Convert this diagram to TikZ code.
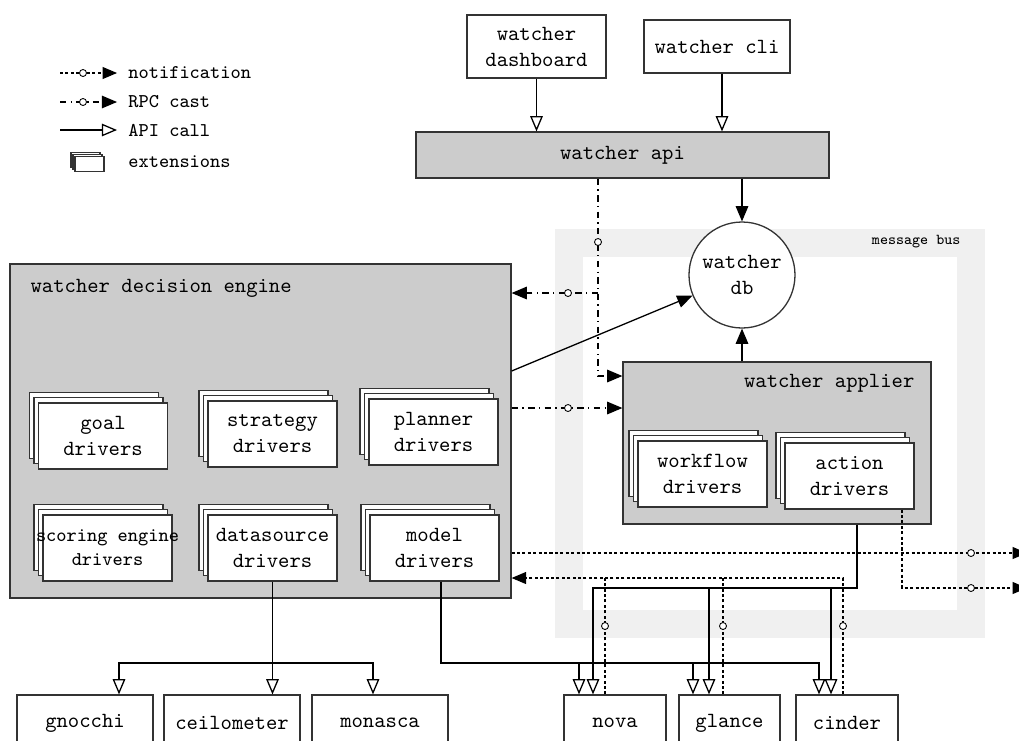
\documentclass[tikz,border=0pt]{standalone}
\usepackage{tikz}
\usetikzlibrary{arrows,shadows,positioning}
\newcommand{\pxl}{0.4626pt}
\tikzset{>=triangle 45}
\tikzset{box/.style={draw=black!80,semithick,fill=white,align=center,font=\ttfamily,inner sep=0pt},
            engine/.style={box,fill=black!20},
            ext/.style={box,minimum width=129*\pxl,minimum height=66*\pxl,
                double copy shadow={shadow xshift=-2.1pt,shadow yshift=2.5pt}},
            icon/.style={box,minimum width=29*\pxl,minimum height=15*\pxl,
                double copy shadow={shadow xshift=-0.9pt,shadow yshift=0.9pt}},
            svc/.style={box,minimum height=56*\pxl},
            dot/.style={circle,draw,thin,fill=white,inner sep=0pt,minimum size=7*\pxl},
            legend/.style={anchor=west,font=\small\ttfamily,inner sep=0pt},
            call/.style={draw,semithick,-open triangle 45},
            rpc/.style={draw,semithick,dash dot,->},
            note/.style={draw,line width=0.5pt,dash pattern=on 1.4pt off 1.1pt,->},
            bus/.style={draw=black!6,line width=28*\pxl},
            }
\begin{document}
\begin{tikzpicture}[x=\pxl,y=-\pxl]
\useasboundingbox (0,0) rectangle (1019,740);

    % message bus
    \draw[bus] (568.5,243) rectangle (971,624);
    \node[font=\scriptsize\ttfamily,anchor=east] (busl) at (968,242) {message bus};

    % legend
    \coordinate (n0) at (60,73);  \coordinate (n1) at (117,73);
    \coordinate (r0) at (60,102); \coordinate (r1) at (117,102);
    \coordinate (a0) at (60,130); \coordinate (a1) at (117,130);
    \draw[note] (n0) -- (n1);
    \draw[rpc] (r0) -- (r1);
    \draw[call] (a0) -- (a1);
    \node[dot] (ln) at (83,73) {};
    \node[dot] (lr) at (83,102) {};
    \node[legend] (lnote) at (128,73) {notification};
    \node[legend] (lrpc) at (128,102) {RPC cast};
    \node[legend] (lcall) at (128,130) {API call};
    \node[icon] (lext) at (89.5,164) {};
    \node[legend] (lextl) at (128,162) {extensions};

    % clients and api
    \node[box,minimum width=139*\pxl,minimum height=63*\pxl] (dash) at (536.5,46.5) {watcher\\dashboard};
    \node[box,minimum width=146*\pxl,minimum height=53*\pxl] (cli) at (717,46.5) {watcher cli};
    \node[engine,minimum width=413*\pxl,minimum height=46*\pxl] (api) at (622.5,155) {watcher api};
    \node[box,circle,minimum size=106*\pxl] (db) at (742,275) {watcher\\db};

    % decision engine
    \node[engine,minimum width=501*\pxl,minimum height=334*\pxl] (de) at (260.5,431) {};
    \node[font=\ttfamily,anchor=west] (detitle) at (23,288) {watcher decision engine};
    \node[ext] (goal) at (103,436) {goal\\drivers};
    \node[ext] (strat) at (272.5,434) {strategy\\drivers};
    \node[ext] (plan) at (433.5,432) {planner\\drivers};
    \node[ext,font=\small\ttfamily] (score) at (107.5,548) {\makebox[0pt]{scoring engine}\\drivers};
    \node[ext] (ds) at (272.5,548) {datasource\\drivers};
    \node[ext] (model) at (434.5,548) {model\\drivers};

    % applier
    \node[engine,minimum width=308*\pxl,minimum height=162*\pxl] (ap) at (777,443) {};
    \node[font=\ttfamily,anchor=east] (aptitle) at (922,383) {watcher applier};
    \node[ext] (wf) at (702.5,474) {workflow\\drivers};
    \node[ext] (act) at (849.5,476) {action\\drivers};

    % services
    \node[svc,minimum width=136*\pxl] (gno) at (85,723) {gnocchi};
    \node[svc,minimum width=136*\pxl] (cei) at (232,723) {ceilometer};
    \node[svc,minimum width=136*\pxl] (mon) at (380,723) {monasca};
    \node[svc,minimum width=102*\pxl] (nova) at (615,723) {nova};
    \node[svc,minimum width=101*\pxl] (glance) at (729.5,723) {glance};
    \node[svc,minimum width=102*\pxl] (cinder) at (847,723) {cinder};

    % api calls
    \draw[call] (dash) -- (dash |- api.north);
    \draw[call] (722,0 |- cli.south) -- (722,0 |- api.north);
    \draw[->,semithick] (api.south -| db) -- (db);
    \draw[->,semithick] (ap.north -| db) -- (db);
    \draw[->,semithick] (de.east |- 0,371) -- (db);

    \draw[call] (ds) -- (ds |- cei.north);
    \draw[call] (ds.south |- 0,663) -| (119,0 |- gno.north);
    \draw[call] (ds.south |- 0,663) -| (373,0 |- mon.north);

    \draw[call] (441,0 |- model.south) |- (819,663) -- (819,0 |- cinder.north);
    \draw[call] (579,663) -- (579,0 |- nova.north);
    \draw[call] (693,663) -- (693,0 |- glance.north);

    \draw[call] (857,0 |- ap.south) |- (593,588) -- (593,0 |- nova.north);
    \draw[call] (709,588) -- (709,0 |- glance.north);
    \draw[call] (831,588) -- (831,0 |- cinder.north);

    % rpc casts
    \draw[rpc] (598,0 |- api.south) |- (ap.west |- 0,376);
    \draw[rpc] (598,293) -- (de.east |- 0,293);
    \draw[rpc] (de.east |- 0,408) -- (ap.west |- 0,408);

    % notifications
    \coordinate (out1) at (1027,553);
    \coordinate (out2) at (1027,588);
    \draw[note] (de.east |- 0,553) -- (out1);
    \draw[note] (902,0 |- act.south) |- (out2);
    \draw[note,-] (605,0 |- nova.north) -- (605,578);
    \draw[note,-] (723,0 |- glance.north) -- (723,578);
    \draw[note] (843,0 |- cinder.north) |- (de.east |- 0,578);

    \node[dot] (d1) at (598,242) {};
    \node[dot] (d2) at (568,293) {};
    \node[dot] (d3) at (568,408) {};
    \node[dot] (d4) at (971,553) {};
    \node[dot] (d5) at (971,588) {};
    \node[dot] (d6) at (605,626) {};
    \node[dot] (d7) at (723,626) {};
    \node[dot] (d8) at (843,626) {};

\end{tikzpicture}
\end{document}
